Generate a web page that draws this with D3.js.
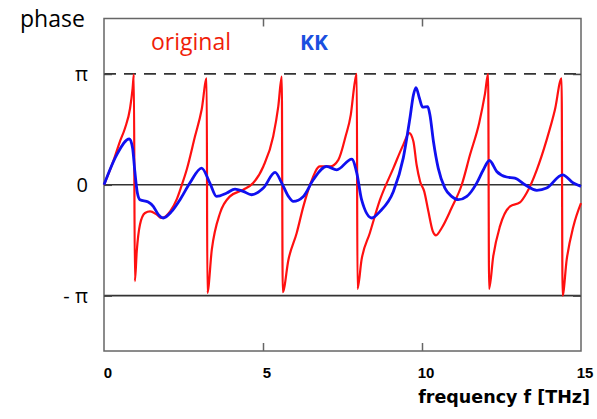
<!DOCTYPE html>
<html>
<head>
<meta charset="utf-8">
<script src="https://cdn.jsdelivr.net/npm/d3@7"></script>
<style>
    body { margin: 0; background: white; }
    svg { display: block; }
</style>
</head>
<body>
<svg id="phase-chart"></svg>
<script>
// Frequency (THz) and phase (in units of pi) of the original signal
const original_freq = [0, 0.29, 0.50, 0.66, 0.82, 0.90, 0.94,
    0.97, 1.03, 1.13, 1.29, 1.45, 1.66, 1.81, 2.08, 2.29, 2.45, 2.60, 2.86, 3.07, 3.23,
    3.25, 3.39, 3.65, 3.96, 4.38, 4.69, 5.01, 5.32, 5.48, 5.59,
    5.62, 5.80, 6.06, 6.27, 6.48, 6.79, 7.11, 7.37, 7.60, 7.76, 7.89, 7.95,
    7.97, 8.10, 8.36, 8.68, 9.10, 9.41, 9.60, 9.73, 9.83, 9.94, 10.07, 10.20, 10.34, 10.44, 10.62, 10.93, 11.25, 11.51, 11.80, 11.98, 12.08,
    12.11, 12.24, 12.45, 12.77, 13.08, 13.29, 13.61, 13.92, 14.18, 14.39,
    14.42, 14.55, 14.76, 15.0];
const original_phase = [0, 0.21, 0.39, 0.51, 0.69, 0.87, 0.995,
    -0.87, -0.60, -0.36, -0.255, -0.24, -0.27, -0.30, -0.24, -0.13, 0.0, 0.135, 0.435, 0.676, 0.961,
    -0.976, -0.586, -0.255, -0.105, -0.045, 0.015, 0.165, 0.435, 0.705, 0.976,
    -0.97, -0.676, -0.435, -0.195, 0, 0.165, 0.165, 0.225, 0.44, 0.63, 0.93, 1.0,
    -0.94, -0.676, -0.435, -0.135, 0.15, 0.36, 0.466, 0.39, 0.18, 0.03, -0.06, -0.24, -0.42, -0.456, -0.39, -0.21, 0, 0.27, 0.56, 0.82, 1.0,
    -0.94, -0.646, -0.376, -0.195, -0.16, -0.075, 0.135, 0.405, 0.676, 0.961,
    -1.0, -0.676, -0.376, -0.165];

// Frequency (THz) and phase (in units of pi) of the Kramers-Kronig reconstruction
const kk_freq = [0, 0.40, 0.80, 0.90, 0.97, 1.05, 1.13, 1.39, 1.55, 1.71, 1.86, 2.13, 2.39, 2.70, 3.07, 3.33, 3.54, 3.86, 4.12, 4.38, 4.64,
    5.01, 5.38, 5.59, 5.80, 5.95, 6.27, 6.58, 7.00, 7.32, 7.79, 7.95, 8.10, 8.42, 8.68, 9.10, 9.41, 9.62, 9.73, 9.81,
    9.92, 10.02, 10.18, 10.25, 10.36, 10.51, 10.72, 10.93, 11.14, 11.41, 11.72, 11.93, 12.12, 12.35, 12.66, 12.92, 13.24, 13.61,
    13.92, 14.42, 14.76, 15.0];
const kk_phase = [0, 0.27, 0.414, 0.33, 0.12, -0.075, -0.135, -0.156, -0.195, -0.27, -0.30, -0.24, -0.135, 0.015, 0.15, 0.015, -0.105, -0.075, -0.039, -0.06, -0.09,
    -0.03, 0.111, 0.015, -0.105, -0.15, -0.105, 0.045, 0.165, 0.135, 0.232, 0.105, -0.135, -0.30, -0.24, -0.06, 0.24, 0.60, 0.81, 0.877,
    0.78, 0.70, 0.705, 0.63, 0.39, 0.15, -0.03, -0.105, -0.135, -0.105, 0.015, 0.135, 0.219, 0.12, 0.07, 0.06, 0, -0.05,
    -0.03, 0.09, 0.015, -0.015];

// Axis ticks and labels
const x_ticks = [0, 5, 10, 15];
const y_ticks = [1, 0, -1];
const y_tick_labels = ["π", "0", "- π"];

// Chart dimensions
const chart_width = 597, chart_height = 419;
const margins = { top: 18.5, right: 16, bottom: 68, left: 104 };
const inner_width = chart_width - margins.left - margins.right;
const inner_height = chart_height - margins.top - margins.bottom;

const x_scale = d3.scaleLinear().domain([0, 15]).range([0, inner_width]);
const y_scale = d3.scaleLinear().domain([-1.5, 1.5]).range([inner_height, 0]);

const svg = d3.select("#phase-chart")
    .attr("width", chart_width)
    .attr("height", chart_height);

const g = svg.append("g")
    .attr("transform", `translate(${margins.left}, ${margins.top})`);

// Reference lines at +pi (dashed), 0 and -pi
g.append("line")
    .attr("x1", 0).attr("x2", inner_width)
    .attr("y1", y_scale(1)).attr("y2", y_scale(1))
    .style("stroke", "#333").style("stroke-width", 1.6)
    .style("stroke-dasharray", "12,8");
[0, -1].forEach(v => {
    g.append("line")
        .attr("x1", 0).attr("x2", inner_width)
        .attr("y1", y_scale(v)).attr("y2", y_scale(v))
        .style("stroke", "#333").style("stroke-width", 1.6);
});

// Frame and ticks
g.append("rect")
    .attr("width", inner_width).attr("height", inner_height)
    .style("fill", "none").style("stroke", "#666").style("stroke-width", 1.5);

g.append("g")
    .attr("transform", `translate(0, ${inner_height})`)
    .call(d3.axisBottom(x_scale).tickValues([5, 10]).tickSizeInner(-8).tickSizeOuter(0).tickFormat(""))
    .call(a => a.select(".domain").remove())
    .selectAll("line").style("stroke", "#666").style("stroke-width", 1.5);
g.append("g")
    .call(d3.axisTop(x_scale).tickValues([5, 10]).tickSizeInner(-8).tickSizeOuter(0).tickFormat(""))
    .call(a => a.select(".domain").remove())
    .selectAll("line").style("stroke", "#666").style("stroke-width", 1.5);
g.append("g")
    .call(d3.axisLeft(y_scale).tickValues(y_ticks).tickSizeInner(-8).tickSizeOuter(0).tickFormat(""))
    .call(a => a.select(".domain").remove())
    .selectAll("line").style("stroke", "#444").style("stroke-width", 1.6);
g.append("g")
    .attr("transform", `translate(${inner_width}, 0)`)
    .call(d3.axisRight(y_scale).tickValues([1, -1]).tickSizeInner(-8).tickSizeOuter(0).tickFormat(""))
    .call(a => a.select(".domain").remove())
    .selectAll("line").style("stroke", "#444").style("stroke-width", 1.6);

// X tick labels
g.selectAll(".x-label")
    .data(x_ticks)
    .join("text")
    .attr("x", d => x_scale(d) + 4)
    .attr("y", inner_height + 27)
    .attr("text-anchor", "middle")
    .style("font-family", "Liberation Sans, Arial, sans-serif")
    .style("font-weight", "bold")
    .style("font-size", "15px")
    .text(d => d);

// Y tick labels
g.selectAll(".y-label")
    .data(y_ticks)
    .join("text")
    .attr("x", -16)
    .attr("y", d => y_scale(d) + 7)
    .attr("text-anchor", "end")
    .style("font-family", "Open Sans, sans-serif")
    .style("font-size", "20px")
    .text((d, i) => y_tick_labels[i]);

// Axis titles
svg.append("text")
    .attr("x", 20).attr("y", 27)
    .style("font-family", "Open Sans, sans-serif")
    .style("font-size", "23px")
    .text("phase");
svg.append("text")
    .attr("x", 590).attr("y", 403)
    .attr("text-anchor", "end")
    .style("font-family", "DejaVu Sans, sans-serif")
    .style("font-weight", "bold")
    .style("font-size", "17.5px")
    .text("frequency f [THz]");

// Legend
svg.append("text")
    .attr("x", 151).attr("y", 50)
    .style("font-family", "Open Sans, sans-serif")
    .style("font-size", "23px")
    .style("fill", "#f01e0a")
    .text("original");
svg.append("text")
    .attr("x", 300).attr("y", 50)
    .style("font-family", "Open Sans, sans-serif")
    .style("font-weight", "bold")
    .style("font-size", "21px")
    .style("fill", "#1a4fe0")
    .text("KK");

// Curves
const line = d3.line()
    .x(d => x_scale(d[0]))
    .y(d => y_scale(d[1]))
    .curve(d3.curveMonotoneX);

g.append("path")
    .datum(original_freq.map((f, i) => [f, original_phase[i]]))
    .attr("d", line)
    .style("fill", "none")
    .style("stroke", "#ff1010")
    .style("stroke-width", 2.2);

g.append("path")
    .datum(kk_freq.map((f, i) => [f, kk_phase[i]]))
    .attr("d", line)
    .style("fill", "none")
    .style("stroke", "#1010f0")
    .style("stroke-width", 2.8);
</script>
</body>
</html>
